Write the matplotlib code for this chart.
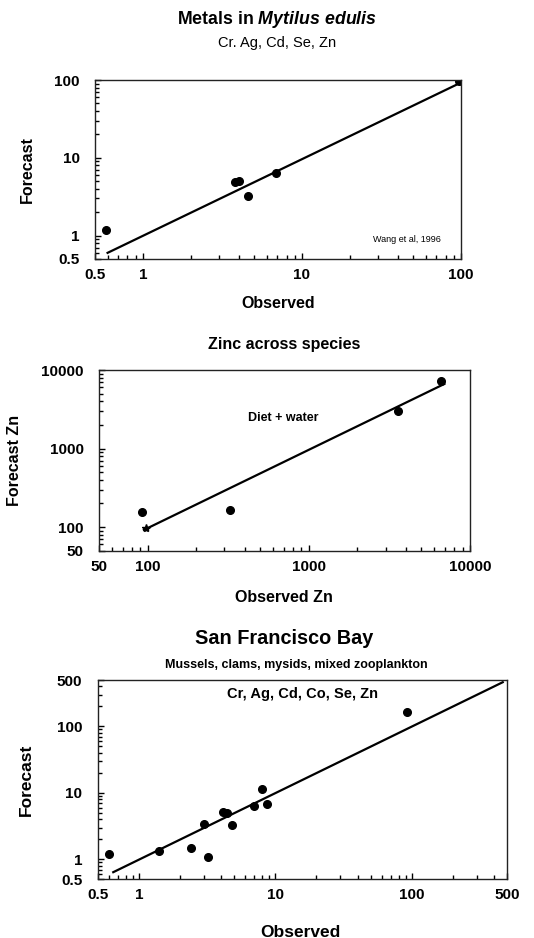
import matplotlib
matplotlib.use('Agg')
import matplotlib.pyplot as plt
from matplotlib.ticker import LogLocator, NullFormatter, FixedLocator, FixedFormatter

plt.rcParams['font.family'] = ['Liberation Sans', 'DejaVu Sans']
plt.rcParams['mathtext.fontset'] = 'custom'
plt.rcParams['mathtext.it'] = 'Liberation Sans:italic:bold'
plt.rcParams['mathtext.rm'] = 'Liberation Sans:bold'

# Panel 1: Metals in Mytilus edulis
obs1 = [0.59, 3.81, 4.04, 4.56, 6.84, 97]
fc1 = [1.19, 4.91, 5.06, 3.25, 6.35, 97]
fit1_x = [0.6, 97]
fit1_y = [0.6, 90]
ticks1 = [0.5, 1, 10, 100]
labels1 = ['0.5', '1', '10', '100']

# Panel 2: Zinc across species
obs2 = [92, 325, 3590, 6580]
fc2 = [157, 165, 3005, 7245]
fit2_x = [95, 6930]
fit2_y = [92, 6640]
star2_x = [98]
star2_y = [96]
ticks2 = [50, 100, 1000, 10000]
labels2 = ['50', '100', '1000', '10000']

# Panel 3: San Francisco Bay
obs3 = [0.605, 1.41, 2.40, 3.02, 3.21, 4.12, 4.40, 4.84, 6.98, 8.03, 8.65, 91.8]
fc3 = [1.19, 1.32, 1.50, 3.40, 1.09, 5.1, 4.93, 3.32, 6.42, 11.5, 6.74, 167]
fit3_x = [0.65, 463]
fit3_y = [0.64, 463]
ticks3 = [0.5, 1, 10, 100, 500]
labels3 = ['0.5', '1', '10', '100', '500']

W, H = 534, 938
fig = plt.figure(figsize=(W / 100, H / 100), dpi=100)


def box(left, top, right, bottom):
    return [left / W, 1 - bottom / H, (right - left) / W, (bottom - top) / H]


def style(ax, lim, ticks, labels, size=11):
    ax.set_xscale('log')
    ax.set_yscale('log')
    ax.set_xlim(lim)
    ax.set_ylim(lim)
    for axis in (ax.xaxis, ax.yaxis):
        axis.set_major_locator(FixedLocator(ticks))
        axis.set_major_formatter(FixedFormatter(labels))
        axis.set_minor_locator(LogLocator(base=10, subs=tuple(range(2, 10)), numticks=30))
        axis.set_minor_formatter(NullFormatter())
    ax.tick_params(axis='both', which='major', direction='in', top=False, right=False,
                   width=1.0, color='black', length=4.5, labelsize=size)
    ax.tick_params(axis='both', which='minor', direction='in', top=False, right=False,
                   width=1.0, color='black', length=3)
    ax.tick_params(axis='y', which='major', pad=11)
    ax.tick_params(axis='x', which='major', pad=6.5)
    for lab in ax.get_xticklabels() + ax.get_yticklabels():
        lab.set_fontweight('bold')
    for sp in ax.spines.values():
        sp.set_linewidth(1.0)
        sp.set_color('#222222')


# --- Panel 1
ax1 = fig.add_axes(box(95, 80, 461, 259))
ax1.plot(fit1_x, fit1_y, 'k-', lw=1.6)
ax1.plot(obs1, fc1, 'ko', ms=5.5)
style(ax1, (0.5, 100), ticks1, labels1)
ax1.text(46, 0.885, 'Wang et al, 1996', fontsize=6.5, ha='center', va='center')
fig.text(277 / W, 1 - 20 / H, r'Metals in $\mathit{Mytilus\ edulis}$', ha='center', va='center',
         fontsize=12.8, fontweight='bold')
fig.text(277 / W, 1 - 43 / H, 'Cr. Ag, Cd, Se, Zn', ha='center', va='center', fontsize=10.5)
fig.text(27 / W, 1 - 170 / H, 'Forecast', rotation=90, ha='center', va='center',
         fontsize=11.5, fontweight='bold')
fig.text(278 / W, 1 - 303 / H, 'Observed', ha='center', va='center',
         fontsize=11.5, fontweight='bold')

# --- Panel 2
ax2 = fig.add_axes(box(99, 370, 470, 550.7))
ax2.plot(fit2_x, fit2_y, 'k-', lw=1.6)
ax2.plot(obs2, fc2, 'ko', ms=5.5)
ax2.plot(star2_x, star2_y, 'k*', ms=6)
style(ax2, (50, 10000), ticks2, labels2)
ax2.text(692, 2450, 'Diet + water', fontsize=9, fontweight='bold', ha='center', va='center')
fig.text(284 / W, 1 - 345 / H, 'Zinc across species', ha='center', va='center',
         fontsize=11.5, fontweight='bold')
fig.text(15 / W, 1 - 460 / H, 'Forecast Zn', rotation=90, ha='center', va='center',
         fontsize=11.5, fontweight='bold')
fig.text(284 / W, 1 - 597 / H, 'Observed Zn', ha='center', va='center',
         fontsize=11.5, fontweight='bold')

# --- Panel 3
ax3 = fig.add_axes(box(97.7, 680, 507.3, 879.3))
ax3.plot(fit3_x, fit3_y, 'k-', lw=1.6)
ax3.plot(obs3, fc3, 'ko', ms=5.5)
style(ax3, (0.5, 500), ticks3, labels3)
ax3.text(0.5, 0.93, 'Cr, Ag, Cd, Co, Se, Zn', transform=ax3.transAxes, ha='center', va='center',
         fontsize=10.5, fontweight='bold')
fig.text(284 / W, 1 - 638 / H, 'San Francisco Bay', ha='center', va='center',
         fontsize=14.3, fontweight='bold')
fig.text(296 / W, 1 - 665 / H, 'Mussels, clams, mysids, mixed zooplankton', ha='center', va='center',
         fontsize=9, fontweight='bold')
fig.text(26 / W, 1 - 780 / H, 'Forecast', rotation=90, ha='center', va='center',
         fontsize=12.5, fontweight='bold')
fig.text(300 / W, 1 - 932 / H, 'Observed', ha='center', va='center',
         fontsize=12.5, fontweight='bold')

fig.savefig('out.png', dpi=100)
